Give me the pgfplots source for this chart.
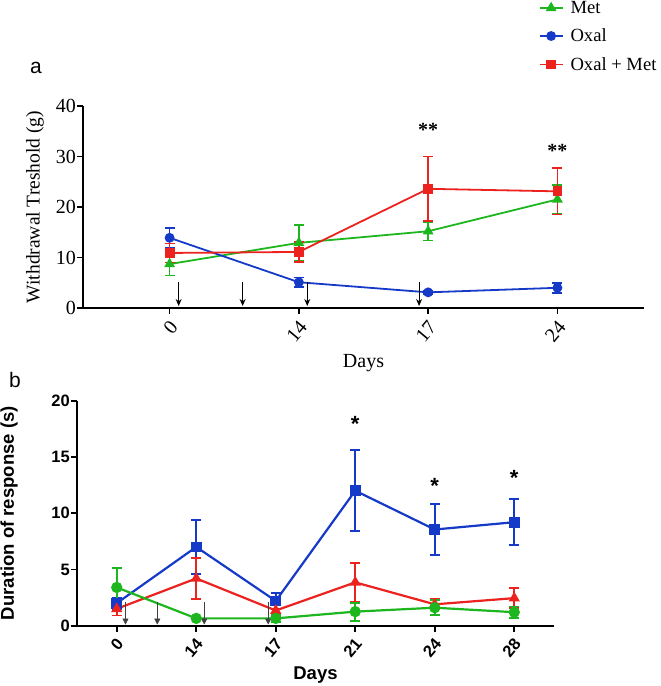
\documentclass[border=0pt]{standalone}
\usepackage{fontspec}
\setmainfont{Liberation Serif}
\setsansfont{Liberation Sans}
\usepackage{pgfplots}
\pgfplotsset{compat=1.18}
\usetikzlibrary{arrows.meta}
\definecolor{cgreen}{RGB}{30,182,30}
\definecolor{cblue}{RGB}{22,58,200}
\definecolor{cred}{RGB}{236,34,30}
\newcommand\fa{\fontsize{20}{23}\selectfont}
\newcommand\fb{\sffamily\bfseries\fontsize{16.5}{19}\selectfont}
\begin{document}
\begin{tikzpicture}[x=1pt,y=1pt]
\useasboundingbox (0,0) rectangle (661,686);
% ---------------- panel a ----------------
\begin{axis}[
  at={(83pt,378pt)}, anchor=south west,
  scale only axis, width=561pt, height=202pt,
  xmin=-0.67, xmax=3.67, ymin=0, ymax=40,
  axis x line*=bottom, axis y line*=left,
  axis line style={line width=1.6pt,-},
  xtick={0,1,2,3}, xticklabels={0,14,17,24},
  ytick={0,10,20,30,40},
  tick align=outside, major tick length=6pt,
  tick style={line width=1.6pt, black},
  /pgf/number format/assume math mode=true,
  ticklabel style={font=\fa},
  xticklabel style={xshift=5pt, yshift=-9pt, rotate=50, anchor=east, inner sep=1pt},
  yticklabel style={inner sep=1pt},
  xlabel={Days}, ylabel={Withdrawal Treshold (g)},
  label style={font=\fa},
  ylabel style={font=\fontsize{19.5}{22}\selectfont, at={(axis description cs:-0.0856,0.5)}, anchor=center},
  xlabel style={at={(axis description cs:0.5,-0.272)}, anchor=center},
  clip=false,
  legend style={at={(axis description cs:0.812,1.53)}, anchor=north west,
    draw=none, fill=none, font=\fontsize{18.6}{21}\selectfont, row sep=10pt, column sep=5pt, inner sep=0pt,
    cells={anchor=west}},
  legend image code/.code={\draw[mark repeat=2,mark phase=2] plot coordinates {(0pt,0pt) (11.5pt,0pt) (23pt,0pt)};},
]
\addplot[cgreen, line width=1.8pt, mark=triangle*, mark size=4.5pt, mark options={solid,fill=cgreen},
  error bars/.cd, y dir=both, y explicit, error bar style={line width=1.6pt},
  error mark options={rotate=90, line width=1.6pt, mark size=5pt}]
  coordinates {(0,8.7) +- (0,2.3) (1,12.9) +- (0,3.5) (2,15.2) +- (0,1.8) (3,21.5) +- (0,2.9)};
\addlegendentry{Met}
\addplot[cblue, line width=1.8pt, mark=*, mark size=4pt, mark options={solid,fill=cblue},
  error bars/.cd, y dir=both, y explicit, error bar style={line width=1.6pt},
  error mark options={rotate=90, line width=1.6pt, mark size=5pt}]
  coordinates {(0,13.9) +- (0,2.0) (1,5.1) +- (0,0.9) (2,3.1) +- (0,0.3) (3,4.0) +- (0,1.0)};
\addlegendentry{Oxal}
\addplot[cred, line width=1.8pt, mark=square*, mark size=4pt, mark options={solid,fill=cred},
  error bars/.cd, y dir=both, y explicit, error bar style={line width=1.6pt},
  error mark options={rotate=90, line width=1.6pt, mark size=5pt}]
  coordinates {(0,10.9) +- (0,1.9) (1,11.1) +- (0,2.0) (2,23.6) +- (0,6.4) (3,23.1) +- (0,4.6)};
\addlegendentry{Oxal + Met}
\node[font=\fa\bfseries] at (axis cs:2,35.2) {**};
\node[font=\fa\bfseries] at (axis cs:3,31.2) {**};
\pgfplotsinvokeforeach{0.07,0.565,1.065,1.93}{
  \draw[black, line width=0.9pt, -{Stealth[length=7pt,width=6pt]}] (axis cs:#1,5.1) -- (axis cs:#1,0.4);
}
\end{axis}
% ---------------- panel b ----------------
\begin{axis}[
  at={(77pt,60.3pt)}, anchor=south west,
  scale only axis, width=477pt, height=225pt,
  xmin=-0.5, xmax=5.5, ymin=0, ymax=20,
  axis x line*=bottom, axis y line*=left,
  axis line style={line width=1.8pt,-},
  xtick={0,1,2,3,4,5}, xticklabels={0,14,17,21,24,28},
  ytick={0,5,10,15,20},
  tick align=outside, major tick length=6pt,
  tick style={line width=1.8pt, black},
  /pgf/number format/assume math mode=true,
  ticklabel style={font=\fb},
  xticklabel style={xshift=4pt, yshift=-8pt, rotate=50, anchor=east, inner sep=1pt},
  yticklabel style={inner sep=1pt},
  xlabel={Days}, ylabel={Duration of response (s)},
  label style={font=\sffamily\bfseries\fontsize{18.5}{21}\selectfont},
  xlabel style={at={(axis description cs:0.5,-0.22)}, anchor=center},
  ylabel style={at={(axis description cs:-0.1426,0.5)}, anchor=center},
  clip=false,
]
\addplot[cblue, line width=2.2pt, mark=square*, mark size=4.3pt, mark options={solid,fill=cblue},
  error bars/.cd, y dir=both, y explicit, error bar style={line width=1.8pt},
  error mark options={rotate=90, line width=1.8pt, mark size=5pt}]
  coordinates {(0,2.0) +- (0,0.5) (1,7.0) +- (0,2.4) (2,2.2) +- (0,0.7) (3,12.0) +- (0,3.6) (4,8.55) +- (0,2.3) (5,9.2) +- (0,2.05)};
\addplot[cred, line width=2.2pt, mark=triangle*, mark size=4.3pt, mark options={solid,fill=cred},
  error bars/.cd, y dir=both, y explicit, error bar style={line width=1.8pt},
  error mark options={rotate=90, line width=1.8pt, mark size=5pt}]
  coordinates {(0,1.5) +- (0,0.6) (1,4.2) +- (0,1.85) (2,1.35) +- (0,0.6) (3,3.85) +- (0,1.7) (4,1.9) +- (0,0.45) (5,2.45) +- (0,0.9)};
\addplot[cgreen, line width=2.2pt, mark=*, mark size=4.5pt, mark options={solid,fill=cgreen},
  error bars/.cd, y dir=both, y explicit, error bar style={line width=1.8pt},
  error mark options={rotate=90, line width=1.8pt, mark size=5pt}]
  coordinates {(0,3.4) +- (0,1.7) (1,0.65) +- (0,0.1) (2,0.65) +- (0,0.3) (3,1.25) +- (0,0.8) (4,1.6) +- (0,0.65) (5,1.2) +- (0,0.5)};
\node[font=\sffamily\bfseries\fontsize{22}{24}\selectfont] at (axis cs:3,17.9) {*};
\node[font=\sffamily\bfseries\fontsize{22}{24}\selectfont] at (axis cs:4,12.4) {*};
\node[font=\sffamily\bfseries\fontsize{22}{24}\selectfont] at (axis cs:5,13.1) {*};
\pgfplotsinvokeforeach{0.11,0.51,1.10,1.905}{
  \draw[black!75, line width=0.7pt, -{Triangle[length=6pt,width=6pt]}] (axis cs:#1,2.1) -- (axis cs:#1,0.1);
}
\end{axis}
\node[font=\sffamily\fontsize{21}{24}\selectfont] at (36,618) {a};
\node[font=\sffamily\fontsize{21}{24}\selectfont] at (15,306) {b};
\end{tikzpicture}
\end{document}
